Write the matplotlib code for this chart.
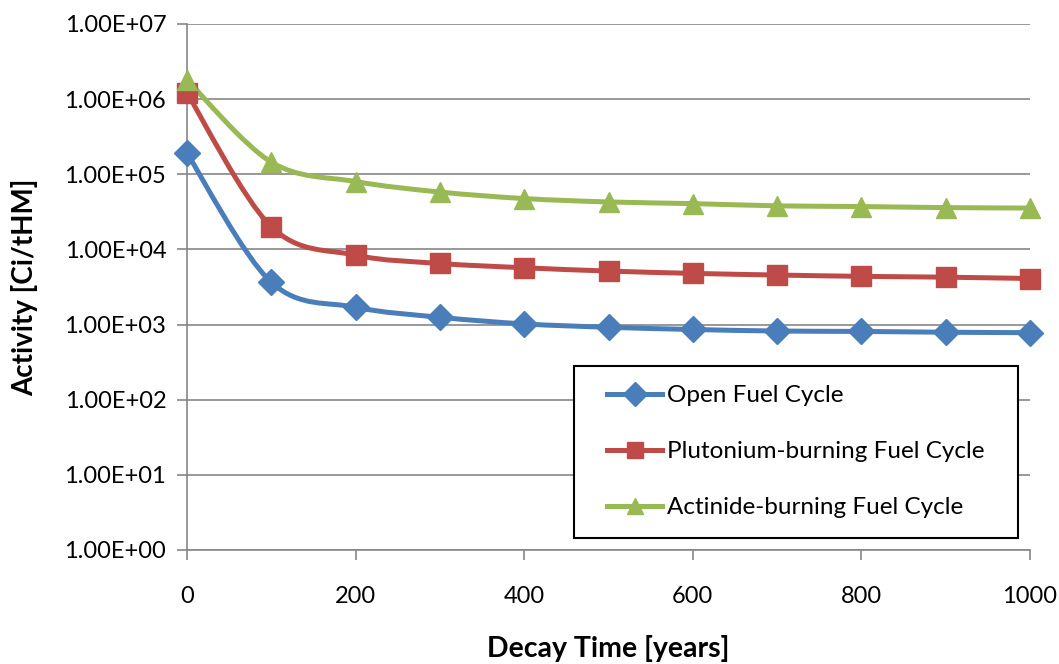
import numpy as np
import matplotlib.pyplot as plt
from matplotlib.path import Path
from matplotlib.patches import PathPatch
from matplotlib.lines import Line2D
from matplotlib.legend_handler import HandlerLine2D
from matplotlib.ticker import FixedLocator, FuncFormatter

plt.rcParams['font.family'] = ['Lato', 'DejaVu Sans']

decay_time = [0, 100, 200, 300, 400, 500, 600, 700, 800, 900, 1000]
open_cycle = [1.9e5, 3.65e3, 1.7e3, 1.25e3, 1.02e3, 9.2e2, 8.6e2, 8.2e2, 8.1e2, 7.9e2, 7.8e2]
pu_cycle = [1.2e6, 2.0e4, 8.4e3, 6.5e3, 5.7e3, 5.15e3, 4.8e3, 4.56e3, 4.38e3, 4.27e3, 4.1e3]
act_cycle = [1.8e6, 1.45e5, 8.0e4, 5.8e4, 4.75e4, 4.28e4, 4.07e4, 3.8e4, 3.72e4, 3.6e4, 3.55e4]

labels = ['Open Fuel Cycle', 'Plutonium-burning Fuel Cycle', 'Actinide-burning Fuel Cycle']
colors = ['#4a7ebb', '#be4b48', '#98b954']
markers = ['D', 's', '^']
msizes = [13, 14, 14.5]


def smooth_path(x, y):
    # Excel-style smoothed line: cubic Bezier segments built in log space
    lx = np.array(x, dtype=float)
    ly = np.log10(np.array(y, dtype=float))
    n = len(lx)
    verts = [(lx[0], ly[0])]
    codes = [Path.MOVETO]
    for i in range(n - 1):
        p0 = (lx[max(i - 1, 0)], ly[max(i - 1, 0)])
        p1 = (lx[i], ly[i])
        p2 = (lx[i + 1], ly[i + 1])
        p3 = (lx[min(i + 2, n - 1)], ly[min(i + 2, n - 1)])
        c1 = (p1[0] + (p2[0] - p0[0]) / 6, p1[1] + (p2[1] - p0[1]) / 6)
        c2 = (p2[0] - (p3[0] - p1[0]) / 6, p2[1] - (p3[1] - p1[1]) / 6)
        verts += [c1, c2, p2]
        codes += [Path.CURVE4] * 3
    verts = [(vx, 10 ** vy) for vx, vy in verts]
    return Path(verts, codes)


fig = plt.figure(figsize=(10.59, 6.64), dpi=100)
ax = fig.add_axes([0.1766, 0.1717, 0.7960, 0.7922])
ax.set_yscale('log')
ax.set_xlim(0, 1000)
ax.set_ylim(1, 1e7)

series = [open_cycle, pu_cycle, act_cycle]
for vals, c, m, ms in zip(series, colors, markers, msizes):
    patch = PathPatch(smooth_path(decay_time, vals), facecolor='none',
                      edgecolor=c, lw=3.6, zorder=3, capstyle='round',
                      joinstyle='round', clip_on=False)
    ax.add_patch(patch)
    ax.plot(decay_time, vals, ls='none', marker=m, ms=ms,
            color=c, zorder=4, clip_on=False)

ax.yaxis.set_major_locator(FixedLocator([10.0 ** k for k in range(8)]))
ax.yaxis.set_minor_locator(FixedLocator([]))
ax.yaxis.set_major_formatter(FuncFormatter(lambda v, p: '%.2E' % v))
ax.set_xticks(range(0, 1001, 200))

ax.grid(axis='y', color='#868686', lw=1.2)
ax.set_axisbelow(True)
for s in ['top', 'right']:
    ax.spines[s].set_visible(False)
for s in ['left', 'bottom']:
    ax.spines[s].set_color('#868686')
    ax.spines[s].set_linewidth(1.2)
ax.tick_params(axis='both', direction='out', length=7, width=1.2,
               color='#868686', labelsize=17, labelcolor='black')
ax.tick_params(axis='x', pad=19)
ax.tick_params(axis='y', pad=8)

ax.set_xlabel('Decay Time [years]', fontsize=20.5, fontweight='bold', labelpad=20)
ax.set_ylabel('Activity [Ci/tHM]', fontsize=20, fontweight='bold', labelpad=19)

handles = [Line2D([], [], color=c, lw=3.6, marker=m, ms=12)
           for c, m in zip(colors, markers)]
leg = ax.legend(handles, labels, loc='upper left',
                bbox_to_anchor=(0.459, 0.0285, 0.527, 0.3213), mode='expand',
                fontsize=17.5, frameon=True, fancybox=False, framealpha=1,
                handlelength=2.84, handletextpad=0.2, labelspacing=1.44,
                borderpad=0.8, borderaxespad=0,
                handler_map={Line2D: HandlerLine2D(xpad=0.58)})
leg.get_frame().set_edgecolor('black')
leg.get_frame().set_linewidth(1.5)

fig.savefig('out.png', dpi=100)
